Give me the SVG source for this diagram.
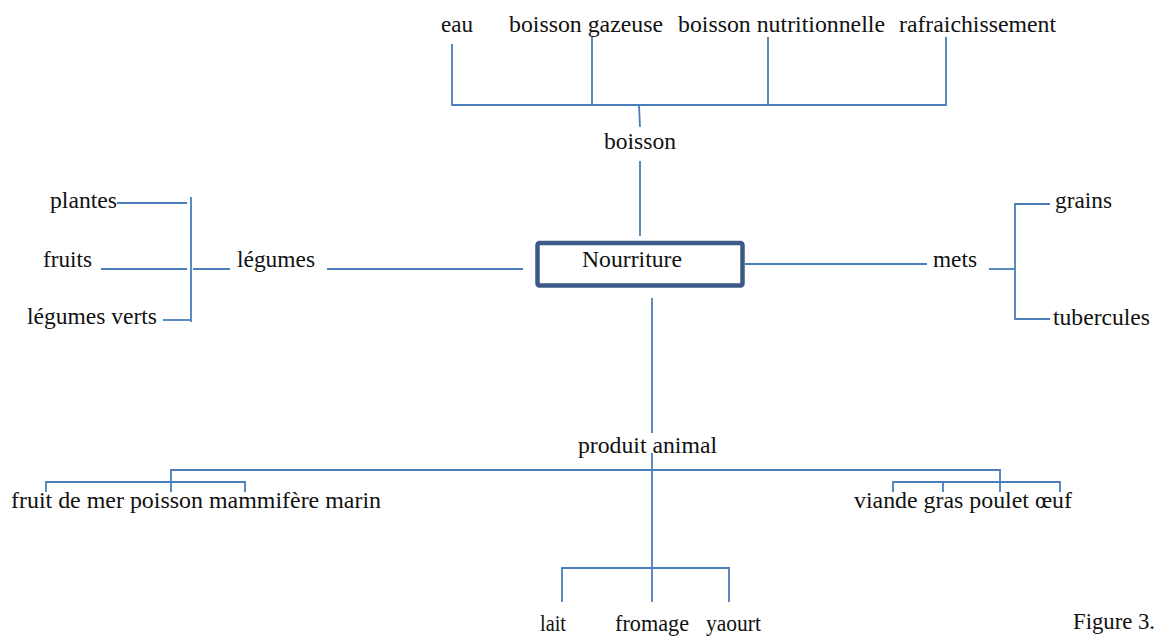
<svg xmlns="http://www.w3.org/2000/svg" width="1163" height="639" viewBox="0 0 1163 639">
<style>
.t{font-family:"Liberation Serif","Times New Roman",Times,serif;font-size:23px;fill:#111}
.fig{font-family:"Liberation Serif","Times New Roman",Times,serif;font-size:24px;fill:#111}
.c line,.c polyline{stroke:#4A7EBB;stroke-width:1.8;fill:none}
.box{fill:#fff;stroke:#3B5A88;stroke-width:4.5}
</style>
<rect width="1163" height="639" fill="#fff"/>
<g class="c" id="connectors">
<polyline points="452,44 452,105 946,105 946,37"/>
<line x1="592" y1="37" x2="592" y2="105"/>
<line x1="768" y1="37" x2="768" y2="104"/>
<line x1="639" y1="105" x2="640" y2="127"/>
<line x1="640" y1="161" x2="640" y2="236"/>
<line x1="327" y1="269" x2="523" y2="269"/>
<line x1="193" y1="269" x2="230" y2="269"/>
<line x1="191" y1="197" x2="191" y2="322"/>
<line x1="117" y1="203" x2="187" y2="203"/>
<line x1="101" y1="269" x2="187" y2="269"/>
<line x1="163" y1="320" x2="191" y2="320"/>
<line x1="745" y1="264" x2="927" y2="264"/>
<line x1="989" y1="269" x2="1015" y2="269"/>
<polyline points="1050,204 1015,204 1015,319 1050,319"/>
<line x1="652" y1="298" x2="652" y2="433"/>
<line x1="652" y1="453" x2="652" y2="568"/>
<polyline points="171,492 171,470 1000,470 1000,492"/>
<polyline points="46,492 46,482 245,482 245,492"/>
<polyline points="893,492 893,482 1060,482 1060,492"/>
<line x1="943" y1="482" x2="943" y2="492"/>
<polyline points="562,602 562,568 729,568 729,602"/>
<line x1="652" y1="568" x2="652" y2="602"/>
</g>
<g id="nourriture">
<rect class="box" x="537.5" y="243" width="205" height="42.5" rx="2"/>
<text class="t" x="582" y="267" textLength="100" lengthAdjust="spacingAndGlyphs">Nourriture</text>
</g>
<g id="boisson">
<text class="t" x="604" y="149" textLength="72" lengthAdjust="spacingAndGlyphs">boisson</text>
</g>
<g id="eau"><text class="t" x="441" y="32" textLength="32" lengthAdjust="spacingAndGlyphs">eau</text></g>
<g id="boisson-gazeuse"><text class="t" x="509" y="32" textLength="154" lengthAdjust="spacingAndGlyphs">boisson gazeuse</text></g>
<g id="boisson-nutritionnelle"><text class="t" x="678" y="32" textLength="207" lengthAdjust="spacingAndGlyphs">boisson nutritionnelle</text></g>
<g id="rafraichissement"><text class="t" x="899" y="32" textLength="157" lengthAdjust="spacingAndGlyphs">rafraichissement</text></g>
<g id="legumes"><text class="t" x="237" y="267" textLength="78" lengthAdjust="spacingAndGlyphs">légumes</text></g>
<g id="plantes"><text class="t" x="50" y="208" textLength="67" lengthAdjust="spacingAndGlyphs">plantes</text></g>
<g id="fruits"><text class="t" x="43" y="267" textLength="49" lengthAdjust="spacingAndGlyphs">fruits</text></g>
<g id="legumes-verts"><text class="t" x="27" y="324" textLength="130" lengthAdjust="spacingAndGlyphs">légumes verts</text></g>
<g id="mets"><text class="t" x="933" y="267" textLength="44" lengthAdjust="spacingAndGlyphs">mets</text></g>
<g id="grains"><text class="t" x="1055" y="208" textLength="57" lengthAdjust="spacingAndGlyphs">grains</text></g>
<g id="tubercules"><text class="t" x="1053" y="325" textLength="97" lengthAdjust="spacingAndGlyphs">tubercules</text></g>
<g id="produit-animal"><text class="t" x="578" y="453" textLength="139" lengthAdjust="spacingAndGlyphs">produit animal</text></g>
<g id="mer"><text class="t" x="11" y="508" textLength="370" lengthAdjust="spacingAndGlyphs">fruit de mer poisson mammifère marin</text></g>
<g id="viande"><text class="t" x="854" y="508" textLength="218" lengthAdjust="spacingAndGlyphs">viande gras poulet œuf</text></g>
<g id="lait"><text class="t" x="540" y="631" textLength="26" lengthAdjust="spacingAndGlyphs">lait</text></g>
<g id="fromage"><text class="t" x="615" y="631" textLength="74" lengthAdjust="spacingAndGlyphs">fromage</text></g>
<g id="yaourt"><text class="t" x="706" y="631" textLength="55" lengthAdjust="spacingAndGlyphs">yaourt</text></g>
<g id="figure"><text class="fig" x="1073" y="629" textLength="82" lengthAdjust="spacingAndGlyphs">Figure 3.</text></g>
</svg>
